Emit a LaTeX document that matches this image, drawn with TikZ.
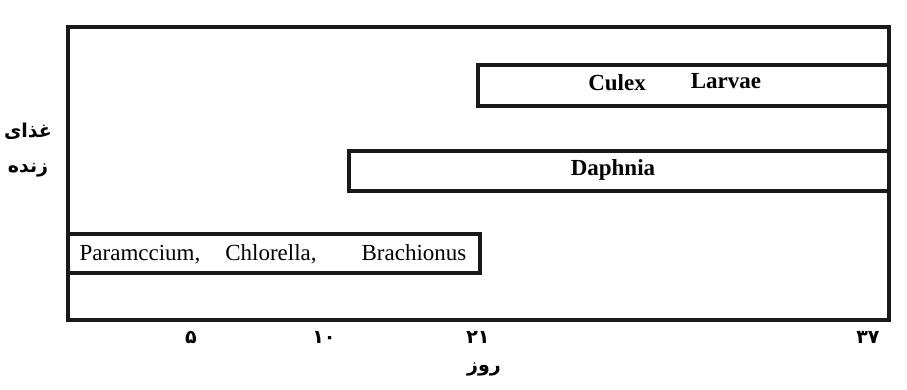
\documentclass[tikz,border=0pt]{standalone}
\usepackage{fontspec}
\setmainfont{Liberation Serif}
\newfontfamily\farsi[Script=Arabic]{DejaVu Sans}
\TeXXeTstate=1
\begin{document}
\begin{tikzpicture}[x=0.5pt,y=-0.5pt,
  frame/.style={draw=black!90, line width=2pt},
  bar/.style={draw=black!90, line width=2pt},
  latin/.style={font=\fontsize{11.5}{13}\selectfont, inner sep=0pt, anchor=base},
  latinb/.style={font=\fontsize{11.5}{13}\selectfont\bfseries, inner sep=0pt, anchor=base},
  fa/.style={font=\fontsize{9.5}{11}\selectfont\farsi\bfseries, inner sep=0pt}]
\useasboundingbox (0,0) rectangle (907,390);
% outer frame of the chart
\draw[frame] (68,27) rectangle (889,320);
% feeding periods
\draw[bar] (478,65) rectangle (889,106);
\draw[bar] (349,151) rectangle (889,191);
\draw[bar] (68,234) rectangle (480,273);
% bar labels
\node[latinb] (culex) at (617,91) {Culex};
\node[latinb] (larvae) at (726,89) {Larvae};
\node[latinb] (daphnia) at (613,176) {Daphnia};
\node[latin] (param) at (140,261) {Paramccium,};
\node[latin] (chlor) at (271,261) {Chlorella,};
\node[latin] (brach) at (414,261) {Brachionus};
% axis tick labels (days)
\node[fa] (d5) at (191,337) {۵};
\node[fa] (d10) at (324,337) {۱۰};
\node[fa] (d21) at (478,337) {۲۱};
\node[fa] (d37) at (868,337) {۳۷};
% axis titles
\node[fa] (xlab) at (484,369) {\beginR روز\endR};
\node[fa] (ylab1) at (28,131) {\beginR غذای\endR};
\node[fa] (ylab2) at (28,170) {\beginR زنده\endR};
\end{tikzpicture}
\end{document}
